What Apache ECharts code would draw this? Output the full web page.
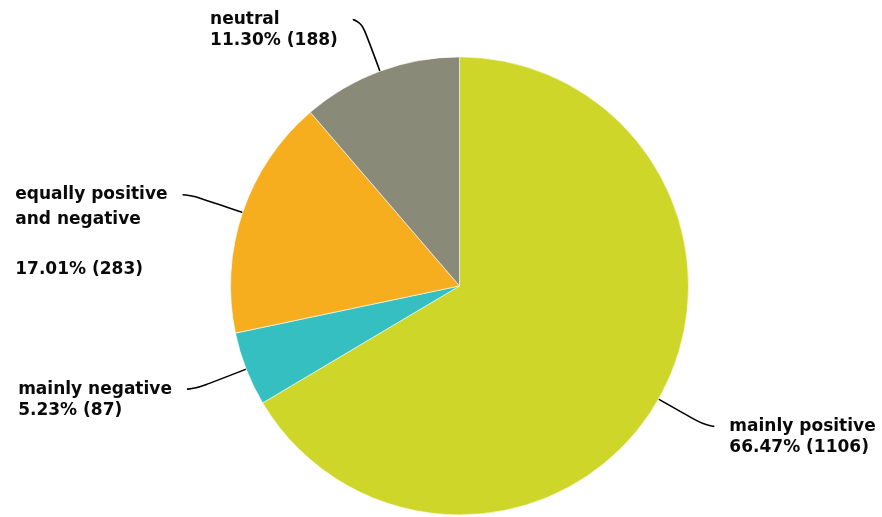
<!DOCTYPE html>
<html>
<head>
<meta charset="utf-8">
<script src="https://cdn.jsdelivr.net/npm/echarts@6/dist/echarts.min.js"></script>
<style>
html,body{margin:0;padding:0;background:#fff;}
#chart{width:882px;height:517px;}
</style>
</head>
<body>
<div id="chart"></div>
<script>
// Data
var categories = ['mainly positive', 'mainly negative', 'equally positive and negative', 'neutral'];
var labelNames = ['mainly positive', 'mainly negative', 'equally positive\nand negative\n', 'neutral'];
var values = [1106, 87, 283, 188];
var colors = ['#CFD62A', '#35BFC1', '#F6AE1F', '#8A8A78'];
var lineHeights = [21, 21, 25, 21];

var total = values.reduce(function (a, b) { return a + b; }, 0);

var chart = echarts.init(document.getElementById('chart'), null, { renderer: 'canvas' });

var data = categories.map(function (c, i) {
  return {
    name: c,
    value: values[i],
    itemStyle: { color: colors[i] },
    label: { lineHeight: lineHeights[i] }
  };
});

chart.setOption({
  animation: false,
  backgroundColor: '#ffffff',
  series: [{
    type: 'pie',
    center: ['52.1%', '55.3%'],
    radius: [0, 229],
    startAngle: 90,
    clockwise: true,
    avoidLabelOverlap: false,
    data: data,
    itemStyle: { borderColor: '#ffffff', borderWidth: 0.6 },
    label: {
      show: true,
      position: 'outside',
      fontFamily: 'DejaVu Sans',
      fontWeight: 'bold',
      fontSize: 17,
      color: '#0a0a0a',
      distanceToLabelLine: 15,
      formatter: function (p) {
        var pct = (values[p.dataIndex] / total * 100).toFixed(2);
        return labelNames[p.dataIndex] + '\n' + pct + '% (' + values[p.dataIndex] + ')';
      }
    },
    labelLine: {
      show: true,
      length: 55,
      length2: 8,
      smooth: 0.8,
      lineStyle: { color: '#000000', width: 1.6 }
    },
    labelLayout: function (p) {
      var lr = p.labelRect;
      var lh = lineHeights[p.dataIndex];
      return {
        x: lr.x,
        y: lr.y + lr.height / 2 - lh / 2,
        align: 'left',
        verticalAlign: 'top',
        labelLinePoints: p.labelLinePoints
      };
    }
  }]
});
</script>
</body>
</html>
